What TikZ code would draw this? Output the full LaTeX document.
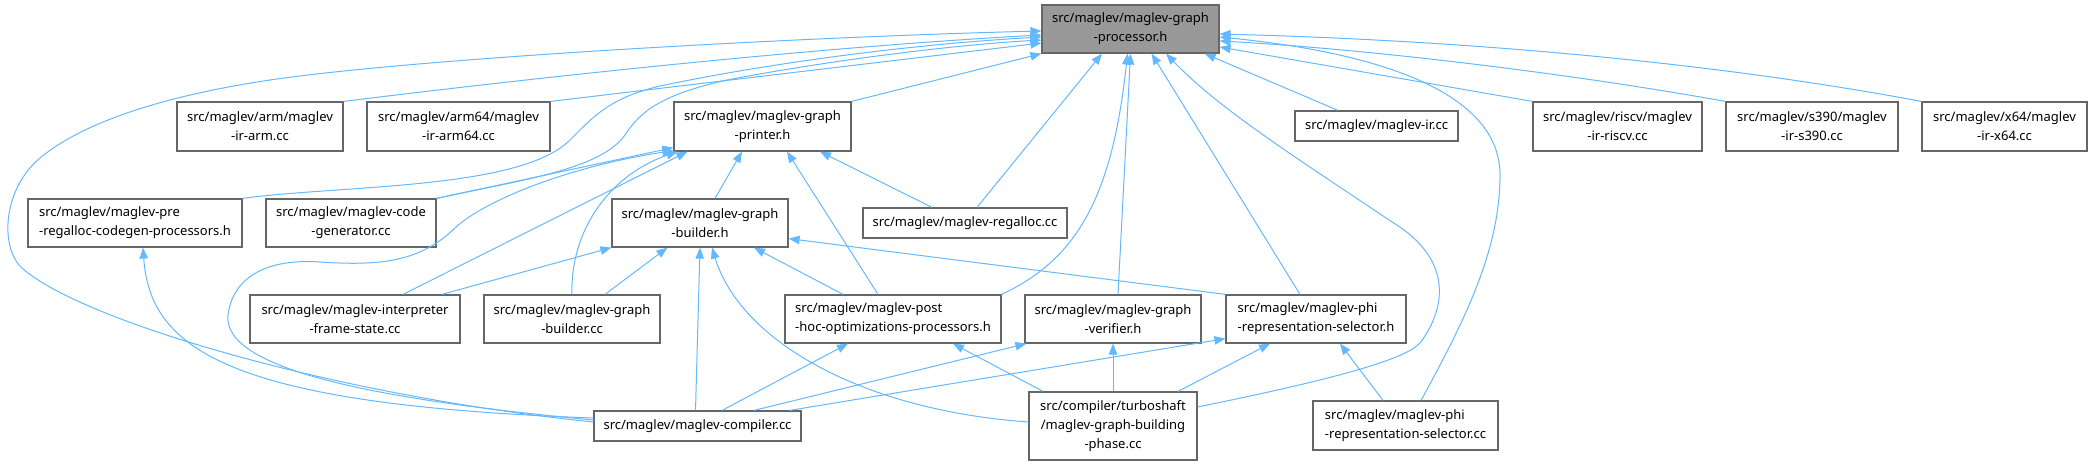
\documentclass[tikz,border=0pt]{standalone}
\usepackage{fontspec}
\setmainfont{Noto Sans}
\usetikzlibrary{arrows.meta}
\definecolor{edgeblue}{HTML}{63B8FF}
\definecolor{boxgray}{HTML}{666666}
\definecolor{mainfill}{HTML}{999999}
\tikzset{
  file/.style={draw=boxgray, line width=1.2pt, fill=white, inner sep=0pt,
    font=\fontsize{13}{19}\selectfont, align=center},
  sz/.style 2 args={minimum width=#1pt, minimum height=#2pt},
  >={Triangle[length=11pt,width=8.5pt]},
}

\begin{document}
\begin{tikzpicture}[
  x=1pt, y=-1pt,
  incl/.style={draw=edgeblue, line width=1pt, ->}
]
\useasboundingbox (0,0) rectangle (2092,465);

\node[file, sz={177}{48}, fill=mainfill] (proc) at (1130.5,29) {src/maglev/maglev-graph\\-processor.h};
\node[file, sz={166}{49}] (arm) at (260,126.5) {src/maglev/arm/maglev\\-ir-arm.cc};
\node[file, sz={183}{49}] (arm64) at (458.5,126.5) {src/maglev/arm64/maglev\\-ir-arm64.cc};
\node[file, sz={177}{49}] (printer) at (762.5,126.5) {src/maglev/maglev-graph\\-printer.h};
\node[file, sz={163}{30}] (ir) at (1376.5,126) {src/maglev/maglev-ir.cc};
\node[file, sz={169}{49}] (riscv) at (1617.5,126.5) {src/maglev/riscv/maglev\\-ir-riscv.cc};
\node[file, sz={172}{49}] (s390) at (1812,126.5) {src/maglev/s390/maglev\\-ir-s390.cc};
\node[file, sz={165}{49}] (x64) at (2004.5,126.5) {src/maglev/x64/maglev\\-ir-x64.cc};
\node[file, sz={214}{48}, align=left] (prereg) at (135,223) {src/maglev/maglev-pre\\-regalloc-codegen-processors.h};
\node[file, sz={170}{48}] (codegen) at (351,223) {src/maglev/maglev-code\\-generator.cc};
\node[file, sz={176}{48}] (builderh) at (700,223) {src/maglev/maglev-graph\\-builder.h};
\node[file, sz={204}{30}] (regalloc) at (965,223) {src/maglev/maglev-regalloc.cc};
\node[file, sz={210}{48}] (interp) at (355,319) {src/maglev/maglev-interpreter\\-frame-state.cc};
\node[file, sz={176}{48}] (gbcc) at (572,319) {src/maglev/maglev-graph\\-builder.cc};
\node[file, sz={216}{48}, align=left] (posthoc) at (893,319) {src/maglev/maglev-post\\-hoc-optimizations-processors.h};
\node[file, sz={176}{48}] (verifier) at (1113,319) {src/maglev/maglev-graph\\-verifier.h};
\node[file, sz={180}{48}, align=left] (phih) at (1316,319) {src/maglev/maglev-phi\\-representation-selector.h};
\node[file, sz={207}{30}] (compiler) at (697.5,426) {src/maglev/maglev-compiler.cc};
\node[file, sz={168}{68}] (turbo) at (1113,426) {src/compiler/turboshaft\\/maglev-graph-building\\-phase.cc};
\node[file, sz={185}{49}, align=left] (phicc) at (1405.5,425.5) {src/maglev/maglev-phi\\-representation-selector.cc};

\draw[incl] ([yshift=4pt]compiler.west) .. controls (330,395) and (80,320) .. (22,268)
  .. controls (0,248) and (2,190) .. (40,158) .. controls (86,120) and (170,95) .. (270,80)
  .. controls (420,58) and (800,37) .. ([yshift=-2pt]proc.west);
\draw[incl] ([yshift=8pt]compiler.west) .. controls (230,405) and (150,350) .. ([xshift=8pt]prereg.south);
\draw[incl] ([yshift=6pt]compiler.west) .. controls (380,400) and (222,370) .. (228,315)
  .. controls (232,282) and (260,258) .. (320,262) .. controls (380,266) and (420,262) .. (455,228)
  .. controls (480,204) and (560,168) .. ([yshift=1pt]printer.south west);
\draw[incl] ([xshift=-2pt]compiler.north) -- (builderh.south);
\draw[incl] ([xshift=24.5pt]compiler.north) -- ([xshift=-45pt]posthoc.south);
\draw[incl] ([xshift=56.5pt]compiler.north) -- ([xshift=2pt]verifier.south west);
\draw[incl] ([xshift=-12pt]compiler.north east) -- ([yshift=5pt]phih.south west);

\draw[incl] (prereg.north east) .. controls (340,185) and (520,190) .. (570,140)
  .. controls (595,115) and (610,98) .. (660,86) .. controls (760,65) and (900,45) .. ([yshift=-8pt]proc.west);
\draw[incl] (codegen.north east) .. controls (520,180) and (600,170) .. (625,135)
  .. controls (640,112) and (660,95) .. (727,80) .. controls (820,62) and (950,45) .. ([yshift=-11pt]proc.west);
\draw[incl] (codegen.north east) -- ([yshift=4pt]printer.south west);
\draw[incl] (gbcc.north) .. controls (570,230) and (610,175) .. ([xshift=4pt]printer.south west);
\draw[incl] ([xshift=48pt]interp.north) -- ([xshift=14pt]printer.south west);
\draw[incl] ([xshift=87pt]interp.north) -- (builderh.south west);
\draw[incl] ([xshift=33pt]gbcc.north) -- ([xshift=56pt]builderh.south west);

\draw[incl] (arm.north east) .. controls (500,82) and (800,48) .. ([yshift=-6pt]proc.west);
\draw[incl] (arm64.north east) -- ([yshift=-14pt]proc.west);
\draw[incl] (printer.north east) -- (proc.south west);
\draw[incl] ([xshift=12pt]regalloc.north) -- ([xshift=-28.5pt]proc.south);
\draw[incl] ([xshift=-33pt]regalloc.north) -- ([xshift=57.5pt]printer.south);
\draw[incl] ([xshift=15pt]builderh.north) -- ([xshift=-20.5pt]printer.south);
\draw[incl] ([xshift=-15pt]posthoc.north) -- ([xshift=24.5pt]printer.south);
\draw[incl] (posthoc.north east) .. controls (1075,260) and (1112,200) .. ([xshift=-3pt]proc.south);
\draw[incl] ([xshift=5pt]verifier.north) -- (proc.south);
\draw[incl] ([xshift=-16pt]phih.north) -- ([xshift=21pt]proc.south);
\draw[incl] ([yshift=19pt]turbo.east) .. controls (1330,380) and (1405,360) .. (1420,343)
  .. controls (1445,310) and (1455,260) .. (1392,222) .. controls (1300,160) and (1220,110) .. ([xshift=35.5pt]proc.south);
\draw[incl] ([xshift=15.5pt]phicc.north) .. controls (1465,320) and (1500,250) .. (1500,175)
  .. controls (1500,100) and (1400,55) .. ([yshift=-8pt]proc.east);
\draw[incl] ([xshift=-38.5pt]ir.north) -- ([xshift=-15pt]proc.south east);
\draw[incl] (riscv.north west) -- ([yshift=-18pt]proc.east);
\draw[incl] (s390.north west) .. controls (1550,70) and (1350,48) .. ([yshift=-12pt]proc.east);
\draw[incl] (x64.north west) .. controls (1700,60) and (1450,40) .. ([yshift=-5pt]proc.east);

\draw[incl] (phih.north west) -- ([yshift=9pt]builderh.south east);
\draw[incl] ([xshift=-50pt]posthoc.north) -- ([xshift=54pt]builderh.south);
\draw[incl] ([yshift=4pt]turbo.west) .. controls (860,410) and (740,340) .. ([xshift=12pt]builderh.south);
\draw[incl] ([xshift=-70pt]turbo.north) -- ([xshift=60pt]posthoc.south);
\draw[incl] (turbo.north) -- (verifier.south);
\draw[incl] ([xshift=65pt]turbo.north) -- ([xshift=-46pt]phih.south);
\draw[incl] ([xshift=-22.5pt]phicc.north) -- ([xshift=24pt]phih.south);
\end{tikzpicture}
\end{document}
